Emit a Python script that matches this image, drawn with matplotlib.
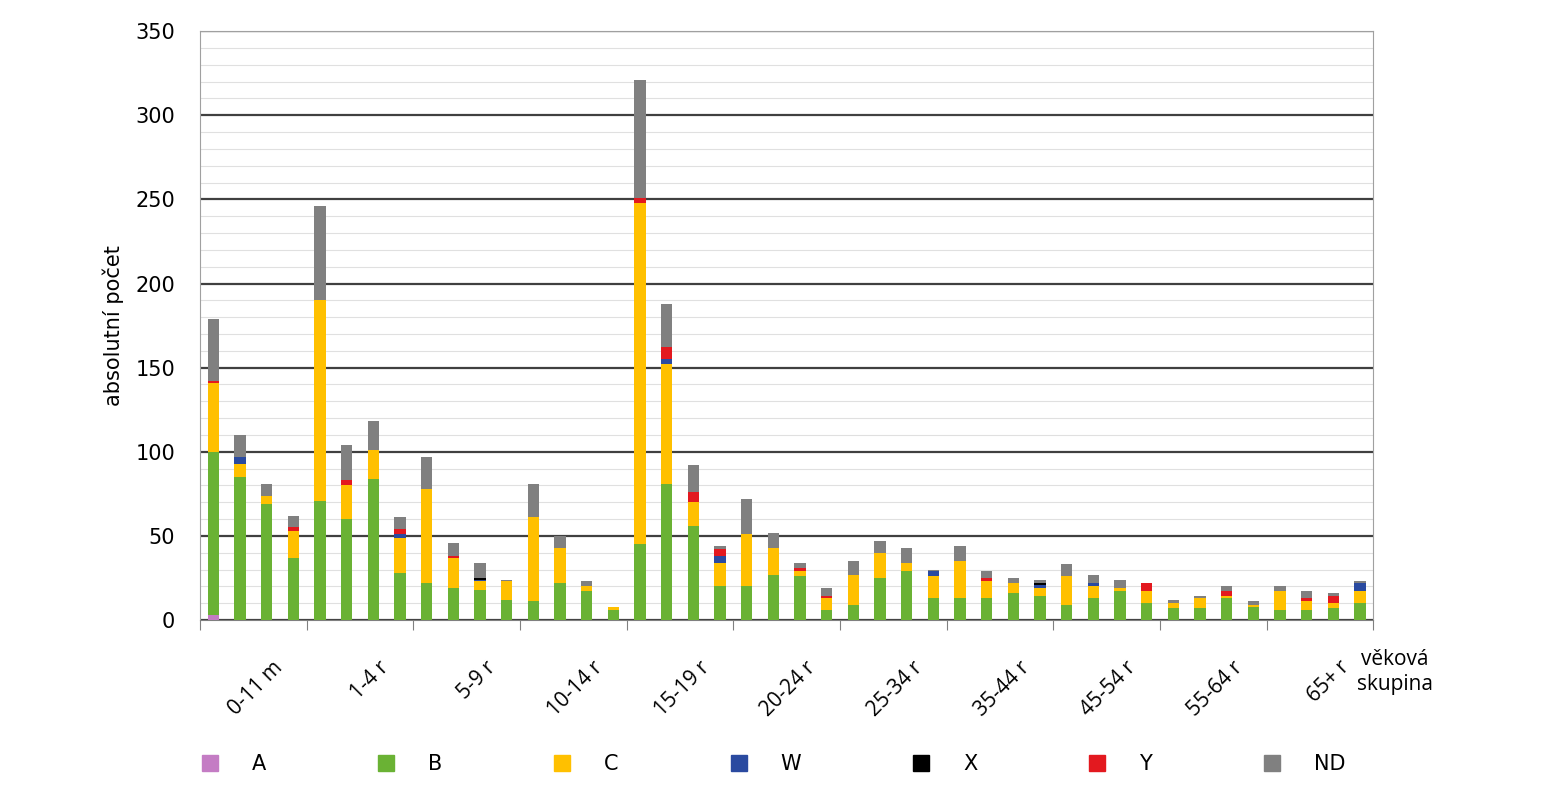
import matplotlib.pyplot as plt
import numpy as np
from matplotlib.lines import Line2D

groups = ["0-11 m", "1-4 r", "5-9 r", "10-14 r", "15-19 r", "20-24 r",
          "25-34 r", "35-44 r", "45-54 r", "55-64 r", "65+ r"]
series = ["A", "B", "C", "W", "X", "Y", "ND"]
colors = ["#c47cc4", "#6ab234", "#ffc000", "#2a4aa0", "#000000", "#e3191f", "#808080"]

A = [3] + [0] * 43
B = [97, 85, 69, 37, 71, 60, 84, 28, 22, 19, 18, 12, 11, 22, 17, 6,
     45, 81, 56, 20, 20, 27, 26, 6, 9, 25, 29, 13, 13, 13, 16, 14,
     9, 13, 17, 10, 7, 7, 13, 8, 6, 6, 7, 10]
C = [41, 8, 5, 16, 119, 20, 17, 21, 56, 18, 5, 11, 50, 21, 3, 2,
     203, 71, 14, 14, 31, 16, 3, 7, 18, 15, 5, 13, 22, 10, 6, 5,
     17, 7, 2, 7, 3, 6, 1, 1, 11, 5, 3, 7]
W = [0, 4, 0, 0, 0, 0, 0, 2, 0, 0, 1, 0, 0, 0, 0, 0,
     0, 3, 0, 4, 0, 0, 0, 0, 0, 0, 0, 3, 0, 0, 0, 2,
     0, 2, 0, 0, 0, 0, 0, 0, 0, 0, 0, 5]
X = [0] * 10 + [1] + [0] * 20 + [1] + [0] * 12
Y = [1, 0, 0, 2, 0, 3, 0, 3, 0, 1, 0, 0, 0, 0, 0, 0,
     3, 7, 6, 4, 0, 0, 2, 1, 0, 0, 0, 0, 0, 2, 0, 0,
     0, 0, 0, 5, 0, 0, 3, 0, 0, 2, 4, 0]
ND = [37, 13, 7, 7, 56, 21, 17, 7, 19, 8, 9, 1, 20, 7, 3, 0,
      70, 26, 16, 2, 21, 9, 3, 5, 8, 7, 9, 1, 9, 4, 3, 2,
      7, 5, 5, 0, 2, 1, 3, 2, 3, 4, 2, 1]

fig = plt.figure(figsize=(15.5, 8), dpi=100)
ax = fig.add_axes([0.129, 0.225, 0.757, 0.736])

x = np.arange(44)
bottom = np.zeros(44)
for name, vals, col in zip(series, [A, B, C, W, X, Y, ND], colors):
    ax.bar(x, vals, 0.42, bottom=bottom, color=col, zorder=3)
    bottom += np.array(vals)

ax.set_xlim(-0.5, 43.5)
ax.set_ylim(0, 350)
ax.set_yticks(range(0, 351, 50))
ax.set_yticks(range(0, 351, 10), minor=True)
ax.tick_params(axis='y', which='both', length=0, labelsize=15, pad=18)
ax.grid(axis='y', which='major', color='#404040', linewidth=1.6, zorder=1)
ax.grid(axis='y', which='minor', color='#e0e0e0', linewidth=0.8, zorder=0)
for s in ax.spines.values():
    s.set_color('#a0a0a0')
ax.spines['bottom'].set_color('#808080')

ax.set_xticks(np.arange(0, 45, 4) - 0.5)
ax.set_xticklabels([])
ax.tick_params(axis='x', length=7, color='#808080')
for i, g in enumerate(groups):
    ax.text(i * 4 + 2.2, -22, g, rotation=45, ha='right', va='top',
            rotation_mode='anchor', fontsize=15, fontfamily='Open Sans')
ax.text(44.3, -17, "věková\nskupina", ha='center', va='top', fontsize=15,
        fontfamily='Open Sans', linespacing=1.3)
ax.set_ylabel("absolutní počet", fontsize=15, labelpad=8)

handles = [Line2D([], [], marker='s', linestyle='', color=c, markersize=11) for c in colors]
fig.legend(handles, series, loc='center', bbox_to_anchor=(0.11, 0.02, 0.77, 0.05),
           mode='expand', ncol=7, frameon=False, fontsize=15, handletextpad=1.0)
fig.savefig("out.png", dpi=100)
